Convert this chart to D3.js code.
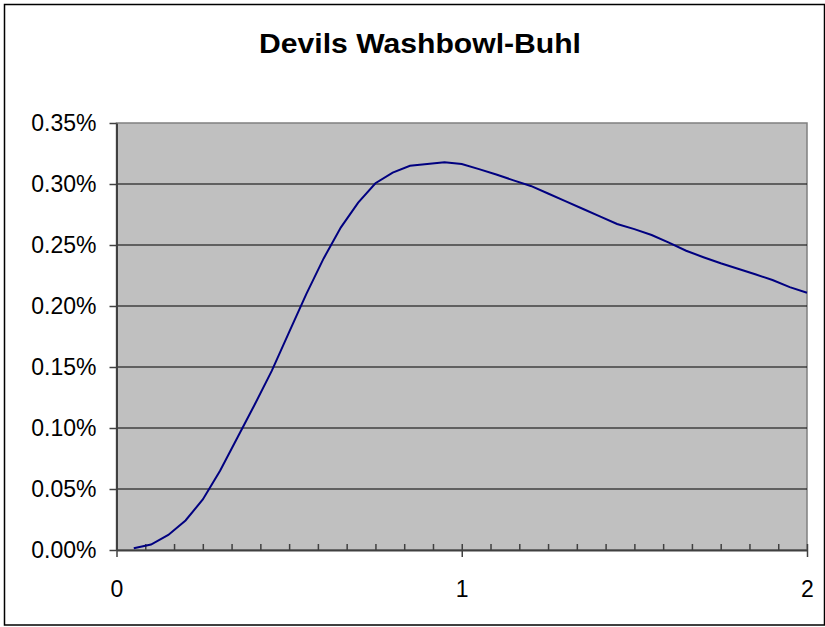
<!DOCTYPE html>
<html>
<head>
<meta charset="utf-8">
<script src="https://cdn.jsdelivr.net/npm/d3@7"></script>
<style>
  body { margin: 0; background: #fff; }
  text { font-family: 'Liberation Sans', Arial, sans-serif; }
</style>
</head>
<body>
<svg width="825" height="627"></svg>
<script>

let title = 'Devils Washbowl-Buhl';

// x positions of the points
let xs = [0.05, 0.10, 0.15, 0.20, 0.25, 0.30, 0.35, 0.40, 0.45, 0.50,
          0.55, 0.60, 0.65, 0.70, 0.75, 0.80, 0.85, 0.90, 0.95, 1.00,
          1.05, 1.10, 1.15, 1.20, 1.25, 1.30, 1.35, 1.40, 1.45, 1.50,
          1.55, 1.60, 1.65, 1.70, 1.75, 1.80, 1.85, 1.90, 1.95, 2.00];

// values in percent
let values = [0.0014, 0.0045, 0.0123, 0.0242, 0.0414, 0.0650, 0.0920, 0.1190, 0.1470, 0.1786,
              0.2100, 0.2390, 0.2645, 0.2847, 0.3006, 0.3093, 0.3150, 0.3164, 0.3178, 0.3164,
              0.3122, 0.3078, 0.3030, 0.2984, 0.2922, 0.2859, 0.2797, 0.2734, 0.2672, 0.2630,
              0.2582, 0.2520, 0.2453, 0.2400, 0.2350, 0.2305, 0.2260, 0.2213, 0.2155, 0.2109];

let yTicks = [0, 0.05, 0.10, 0.15, 0.20, 0.25, 0.30, 0.35];
let xTicks = [0, 1, 2];
let xMinorTicks = d3.range(0, 25).map(i => i / 12);

let svg = d3.select('svg');
let width = +svg.attr('width');
let height = +svg.attr('height');

let plot = { left: 116.5, right: 807, top: 123, bottom: 550 };

let x = d3.scaleLinear().domain([0, 2]).range([plot.left, plot.right]);
let y = d3.scaleLinear().domain([0, 0.35]).range([plot.bottom, plot.top]);

// outer frame
svg.append('rect')
    .attr('x', 4.5).attr('y', 4.5)
    .attr('width', width - 5).attr('height', height - 6.5)
    .attr('fill', '#fff')
    .attr('stroke', '#000')
    .attr('stroke-width', 1.5);

svg.append('text')
    .attr('x', 420)
    .attr('y', 53)
    .attr('text-anchor', 'middle')
    .attr('font-size', '27px')
    .attr('font-weight', 'bold')
    .attr('textLength', 322)
    .attr('lengthAdjust', 'spacingAndGlyphs')
    .text(title);

// plot area
svg.append('rect')
    .attr('x', plot.left).attr('y', plot.top)
    .attr('width', plot.right - plot.left)
    .attr('height', plot.bottom - plot.top)
    .attr('fill', '#c0c0c0')
    .attr('stroke', '#808080')
    .attr('stroke-width', 1.5);

// gridlines
svg.append('g')
    .selectAll('line')
    .data(yTicks.slice(1, -1))
    .enter().append('line')
    .attr('x1', plot.left).attr('x2', plot.right)
    .attr('y1', d => y(d)).attr('y2', d => y(d))
    .attr('stroke', '#000')
    .attr('stroke-width', 1.2);

// minor ticks on x axis (pointing up)
svg.append('g')
    .attr('transform', 'translate(0,' + plot.bottom + ')')
    .call(d3.axisTop(x).tickValues(xMinorTicks).tickSize(6).tickFormat(''))
    .call(g => g.select('.domain').remove())
    .call(g => g.selectAll('line').attr('stroke', '#404040').attr('stroke-width', 1.5));

// x axis
svg.append('g')
    .attr('transform', 'translate(0,' + plot.bottom + ')')
    .call(d3.axisBottom(x).tickValues(xTicks).tickSizeInner(7).tickSizeOuter(0).tickPadding(24).tickFormat(d3.format('d')))
    .call(g => g.select('.domain').attr('stroke', '#404040').attr('stroke-width', 2))
    .call(g => g.selectAll('line').attr('stroke', '#404040').attr('stroke-width', 1.5))
    .call(g => g.selectAll('text').attr('font-size', '23px').attr('fill', '#000')
        .attr('font-family', "'Liberation Sans', Arial, sans-serif"));

// y axis
svg.append('g')
    .attr('transform', 'translate(' + plot.left + ',0)')
    .call(d3.axisLeft(y).tickValues(yTicks).tickSizeInner(7).tickSizeOuter(0).tickPadding(13)
        .tickFormat(d => d.toFixed(2) + '%'))
    .call(g => g.select('.domain').attr('stroke', '#404040').attr('stroke-width', 2))
    .call(g => g.selectAll('line').attr('stroke', '#404040').attr('stroke-width', 1.5))
    .call(g => g.selectAll('text').attr('font-size', '23px').attr('fill', '#000')
        .attr('font-family', "'Liberation Sans', Arial, sans-serif"));

// data line
let line = d3.line()
    .x((d, i) => x(xs[i]))
    .y(d => y(d));

svg.append('path')
    .datum(values)
    .attr('d', line)
    .attr('fill', 'none')
    .attr('stroke', '#000080')
    .attr('stroke-width', 2);

</script>
</body>
</html>
